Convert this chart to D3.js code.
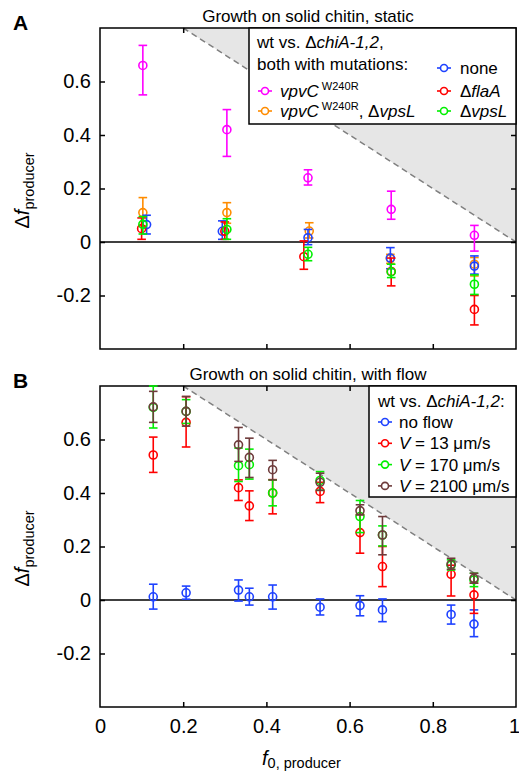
<!DOCTYPE html>
<meta charset="utf-8">
<script src="https://cdn.jsdelivr.net/npm/d3@7"></script>
<style>
  body { margin: 0; background: white; }
  svg { font-family: "Liberation Sans", Arial, sans-serif; }
</style>
<body>
<div id="chart"></div>
<script>
// ---- data ----
var xTicks = [0, 0.2, 0.4, 0.6, 0.8, 1];
var yTicks = [-0.2, 0, 0.2, 0.4, 0.6];

// panel A: growth on solid chitin, static
var aVpvcX  = [0.103, 0.305, 0.500, 0.700, 0.900];
var aVpvcV  = [0.660, 0.420, 0.240, 0.122, 0.025];
var aVpvcLo = [0.550, 0.320, 0.213, 0.085, -0.034];
var aVpvcHi = [0.735, 0.495, 0.270, 0.190, 0.062];

var aVpvcVpslX  = [0.103, 0.305, 0.503, 0.698, 0.900];
var aVpvcVpslV  = [0.110, 0.110, 0.041, -0.062, -0.083];
var aVpvcVpslLo = [0.060, 0.070, 0.015, -0.080, -0.127];
var aVpvcVpslHi = [0.166, 0.147, 0.072, -0.046, -0.058];

var aNoneX  = [0.112, 0.294, 0.500, 0.698, 0.900];
var aNoneV  = [0.065, 0.040, 0.016, -0.060, -0.090];
var aNoneLo = [0.030, 0.010, -0.010, -0.100, -0.120];
var aNoneHi = [0.100, 0.079, 0.047, -0.021, -0.052];

var aFlaX  = [0.100, 0.300, 0.490, 0.700, 0.900];
var aFlaV  = [0.050, 0.040, -0.055, -0.110, -0.252];
var aFlaLo = [0.010, 0.010, -0.102, -0.164, -0.310];
var aFlaHi = [0.090, 0.075, 0.004, -0.060, -0.200];

var aVpslX  = [0.103, 0.305, 0.500, 0.700, 0.900];
var aVpslV  = [0.066, 0.047, -0.046, -0.112, -0.158];
var aVpslLo = [0.030, 0.010, -0.070, -0.133, -0.196];
var aVpslHi = [0.095, 0.087, -0.020, -0.083, -0.123];

// panel B: growth on solid chitin, with flow
var bX = [0.128, 0.207, 0.333, 0.359, 0.415, 0.529, 0.625, 0.679, 0.844, 0.899];

var bNoFlowV  = [0.012, 0.027, 0.037, 0.012, 0.012, -0.027, -0.021, -0.037, -0.054, -0.090];
var bNoFlowLo = [-0.034, 0.003, -0.004, -0.019, -0.034, -0.056, -0.059, -0.081, -0.090, -0.137];
var bNoFlowHi = [0.059, 0.052, 0.075, 0.044, 0.056, 0.004, 0.016, 0.004, -0.019, -0.037];

var bV13V  = [0.542, 0.664, 0.420, 0.352, 0.400, 0.406, 0.252, 0.125, 0.096, 0.019];
var bV13Lo = [0.477, 0.572, 0.372, 0.297, 0.322, 0.364, 0.175, 0.050, 0.015, -0.050];
var bV13Hi = [0.609, 0.760, 0.449, 0.408, 0.450, 0.440, 0.320, 0.200, 0.130, 0.063];

var bV170V  = [0.720, 0.705, 0.502, 0.506, 0.400, 0.447, 0.312, 0.243, 0.130, 0.075];
var bV170Lo = [0.643, 0.660, 0.443, 0.452, 0.352, 0.410, 0.252, 0.202, 0.112, 0.050];
var bV170Hi = [0.800, 0.749, 0.568, 0.564, 0.449, 0.480, 0.372, 0.277, 0.150, 0.100];

var bV2100V  = [0.722, 0.705, 0.580, 0.533, 0.487, 0.440, 0.334, 0.243, 0.134, 0.081];
var bV2100Lo = [0.664, 0.650, 0.518, 0.458, 0.449, 0.410, 0.318, 0.169, 0.115, 0.063];
var bV2100Hi = [0.780, 0.761, 0.645, 0.605, 0.522, 0.474, 0.356, 0.312, 0.156, 0.100];

// ---- colours ----
var cBlue = "#1e42ff", cRed = "#ff0000", cGreen = "#00f000",
    cMagenta = "#ff00ff", cOrange = "#ff8c00", cBrown = "#6e3b3b";

function zipSeries(x, v, lo, hi) {
  return x.map(function(d, i) { return {x: d, v: v[i], lo: lo[i], hi: hi[i]}; });
}

var seriesA = [
  {color: cMagenta, pts: zipSeries(aVpvcX, aVpvcV, aVpvcLo, aVpvcHi)},
  {color: cOrange,  pts: zipSeries(aVpvcVpslX, aVpvcVpslV, aVpvcVpslLo, aVpvcVpslHi)},
  {color: cBlue,    pts: zipSeries(aNoneX, aNoneV, aNoneLo, aNoneHi)},
  {color: cRed,     pts: zipSeries(aFlaX, aFlaV, aFlaLo, aFlaHi)},
  {color: cGreen,   pts: zipSeries(aVpslX, aVpslV, aVpslLo, aVpslHi)}
];
var seriesB = [
  {color: cBlue,  pts: zipSeries(bX, bNoFlowV, bNoFlowLo, bNoFlowHi)},
  {color: cRed,   pts: zipSeries(bX, bV13V, bV13Lo, bV13Hi)},
  {color: cGreen, pts: zipSeries(bX, bV170V, bV170Lo, bV170Hi)},
  {color: cBrown, pts: zipSeries(bX, bV2100V, bV2100Lo, bV2100Hi)}
];

var W = 519, H = 774;
var svg = d3.select("#chart").append("svg")
    .attr("width", W).attr("height", H);

var x = d3.scaleLinear().domain([0, 1]).range([100, 516]);

function addText(g, px, py, parts, size) {
  var t = g.append("text").attr("x", px).attr("y", py)
      .style("font-size", size + "px").attr("fill", "black");
  parts.forEach(function(p) {
    var s = t.append("tspan").text(p.t);
    if (p.it) s.style("font-style", "italic");
    if (p.sup) s.attr("dy", -7).style("font-size", (size * 0.65) + "px");
    if (p.down) s.attr("dy", 7);
  });
  return t;
}

function drawPanel(cfg) {
  var y = d3.scaleLinear().domain([-0.4, 0.8]).range([cfg.bottom, cfg.top]);
  var g = svg.append("g");

  // shaded region f > 1 - f0
  var tri = [[0.2, 0.8], [1, 0.8], [1, 0]];
  g.append("path")
    .attr("d", d3.line().x(function(d){ return x(d[0]); }).y(function(d){ return y(d[1]); })(tri) + "Z")
    .attr("fill", "#e6e6e6");
  g.append("line")
    .attr("x1", x(0.2)).attr("y1", y(0.8)).attr("x2", x(1)).attr("y2", y(0))
    .attr("stroke", "#808080").attr("stroke-width", 1.5).attr("stroke-dasharray", "6,4");

  // zero line
  g.append("line")
    .attr("x1", x(0)).attr("x2", x(1)).attr("y1", y(0)).attr("y2", y(0))
    .attr("stroke", "black").attr("stroke-width", 1.5);

  // axes, ticks inward on all sides
  var ax = function(axis) {
    return axis.tickSizeInner(-5).tickSizeOuter(0);
  };
  g.append("g").attr("transform", "translate(" + x(0) + ",0)")
    .call(ax(d3.axisLeft(y)).tickValues(yTicks).tickPadding(9)
      .tickFormat(function(d){ return d === 0 ? "0" : d.toFixed(1); }));
  g.append("g").attr("transform", "translate(" + x(1) + ",0)")
    .call(ax(d3.axisRight(y)).tickValues(yTicks).tickFormat(""));
  g.append("g").attr("transform", "translate(0," + cfg.top + ")")
    .call(ax(d3.axisTop(x)).tickValues(xTicks.slice(1, -1)).tickFormat(""));
  var bottom = g.append("g").attr("transform", "translate(0," + cfg.bottom + ")")
    .call(ax(d3.axisBottom(x)).tickValues(cfg.xLabels ? xTicks : xTicks.slice(1, -1))
      .tickPadding(12).tickFormat(cfg.xLabels ? d3.format("") : ""));
  g.selectAll(".domain").remove();
  g.selectAll(".tick line").attr("stroke", "black").attr("stroke-width", 1.5);
  g.selectAll(".tick text").attr("fill", "black").style("font-size", "20px")
    .style("font-family", "Liberation Sans, Arial, sans-serif");
  if (cfg.xLabels) {
    var ends = bottom.selectAll(".tick").filter(function(d){ return d === 0 || d === 1; });
    ends.select("line").remove();
    // keep the last label inside the picture
    ends.filter(function(d){ return d === 1; }).select("text").attr("dx", -2);
  }

  // frame
  g.append("rect")
    .attr("x", x(0)).attr("y", cfg.top)
    .attr("width", x(1) - x(0)).attr("height", cfg.bottom - cfg.top)
    .attr("fill", "none").attr("stroke", "black").attr("stroke-width", 1.5);

  // title + panel letter
  g.append("text").attr("x", (x(0) + x(1)) / 2).attr("y", cfg.top - 6)
    .attr("text-anchor", "middle").style("font-size", "17px").text(cfg.title);
  g.append("text").attr("x", 13).attr("y", cfg.top + 2)
    .style("font-size", "21px").style("font-weight", "bold").text(cfg.letter);

  // y label
  var yl = g.append("text")
    .attr("transform", "translate(29," + ((cfg.top + cfg.bottom) / 2 + 40) + ") rotate(-90)")
    .style("font-size", "20px");
  yl.append("tspan").text("\u0394");
  yl.append("tspan").text("f").style("font-style", "italic");
  yl.append("tspan").text("producer").attr("dy", 5).style("font-size", "14.5px");

  // data
  series(g, y, cfg.series);
  return {g: g, y: y};
}

function series(g, y, list) {
  list.forEach(function(s) {
    var sg = g.append("g").attr("stroke", s.color).attr("fill", "none").attr("stroke-width", 1.6);
    var e = sg.selectAll(".eb").data(s.pts).enter().append("g");
    e.append("line")
      .attr("x1", function(d){ return x(d.x); }).attr("x2", function(d){ return x(d.x); })
      .attr("y1", function(d){ return y(d.lo); }).attr("y2", function(d){ return y(d.hi); });
    e.append("line")
      .attr("x1", function(d){ return x(d.x) - 4.3; }).attr("x2", function(d){ return x(d.x) + 4.3; })
      .attr("y1", function(d){ return y(d.lo); }).attr("y2", function(d){ return y(d.lo); });
    e.append("line")
      .attr("x1", function(d){ return x(d.x) - 4.3; }).attr("x2", function(d){ return x(d.x) + 4.3; })
      .attr("y1", function(d){ return y(d.hi); }).attr("y2", function(d){ return y(d.hi); });
    e.append("circle")
      .attr("cx", function(d){ return x(d.x); }).attr("cy", function(d){ return y(d.v); })
      .attr("r", 4);
  });
}

function legendMarker(g, cx, cy, color) {
  g.append("line").attr("x1", cx - 7).attr("x2", cx + 7).attr("y1", cy).attr("y2", cy)
    .attr("stroke", color).attr("stroke-width", 1.6);
  g.append("circle").attr("cx", cx).attr("cy", cy).attr("r", 3.5)
    .attr("fill", "white").attr("stroke", color).attr("stroke-width", 1.6);
}

// ---- panel A ----
var pA = drawPanel({top: 28, bottom: 349, title: "Growth on solid chitin, static",
                    letter: "A", series: seriesA, xLabels: false});
var lgA = pA.g.append("g");
lgA.append("rect").attr("x", 249).attr("y", 28).attr("width", 516 - 249).attr("height", 96)
  .attr("fill", "white").attr("stroke", "black").attr("stroke-width", 1.5);
addText(lgA, 257, 48, [{t: "wt vs. \u0394"}, {t: "chiA-1,2", it: true}, {t: ","}], 17);
addText(lgA, 257, 70, [{t: "both with mutations:"}], 17);
legendMarker(lgA, 265, 91, cMagenta);
addText(lgA, 280, 97, [{t: "vpvC", it: true}, {t: " W240R", sup: true}], 17);
legendMarker(lgA, 265, 111, cOrange);
addText(lgA, 280, 117, [{t: "vpvC", it: true}, {t: " W240R", sup: true},
                         {t: ", \u0394", down: true}, {t: "vpsL", it: true}], 17);
legendMarker(lgA, 444, 68, cBlue);
addText(lgA, 460, 74, [{t: "none"}], 17);
legendMarker(lgA, 444, 91, cRed);
addText(lgA, 460, 97, [{t: "\u0394"}, {t: "flaA", it: true}], 17);
legendMarker(lgA, 444, 111, cGreen);
addText(lgA, 460, 117, [{t: "\u0394"}, {t: "vpsL", it: true}], 17);

// ---- panel B ----
var pB = drawPanel({top: 386, bottom: 707, title: "Growth on solid chitin, with flow",
                    letter: "B", series: seriesB, xLabels: true});
var lgB = pB.g.append("g");
lgB.append("rect").attr("x", 369).attr("y", 386).attr("width", 516 - 369).attr("height", 111)
  .attr("fill", "white").attr("stroke", "black").attr("stroke-width", 1.5);
addText(lgB, 378, 407, [{t: "wt vs. \u0394"}, {t: "chiA-1,2", it: true}, {t: ":"}], 17);
var lgBItems = [
  {c: cBlue,  parts: [{t: "no flow"}]},
  {c: cRed,   parts: [{t: "V", it: true}, {t: " = 13 \u03bcm/s"}]},
  {c: cGreen, parts: [{t: "V", it: true}, {t: " = 170 \u03bcm/s"}]},
  {c: cBrown, parts: [{t: "V", it: true}, {t: " = 2100 \u03bcm/s"}]}
];
lgBItems.forEach(function(it, i) {
  var yy = 428 + i * 21.3;
  legendMarker(lgB, 385, yy - 6, it.c);
  addText(lgB, 399, yy, it.parts, 17);
});

// x axis title
var xt = svg.append("text").attr("x", 262).attr("y", 765).style("font-size", "20px");
xt.append("tspan").text("f").style("font-style", "italic");
xt.append("tspan").text("0, producer").attr("dy", 3).style("font-size", "14.5px");
</script>
</body>
